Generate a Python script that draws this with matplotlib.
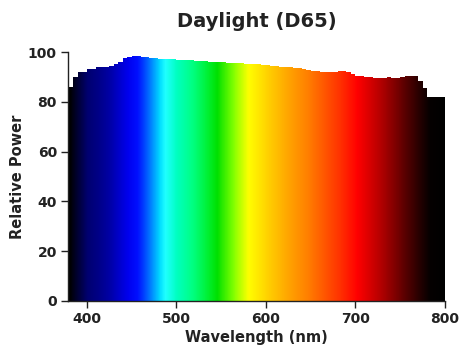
import numpy as np
import matplotlib.pyplot as plt
from matplotlib.colors import LinearSegmentedColormap
from matplotlib.patches import Polygon

# D65 relative power, 5 nm bins (left edge of each bin)
wavelength = np.arange(380, 800, 5)
power = [
    86.0, 90.0, 92.0, 92.0, 93.0, 93.0, 94.0, 94.0, 94.0, 94.5,   # 380-425
    95.0, 96.0, 97.5, 98.0, 98.3, 98.2, 98.0, 97.8, 97.6, 97.5,   # 430-475
    97.3, 97.2, 97.0, 97.0, 96.9, 96.8, 96.7, 96.6, 96.5, 96.3,   # 480-525
    96.2, 96.0, 96.0, 95.9, 95.8, 95.7, 95.6, 95.5, 95.4, 95.3,   # 530-575
    95.2, 95.1, 95.0, 94.8, 94.6, 94.4, 94.2, 94.1, 94.0, 93.9,   # 580-625
    93.7, 93.4, 93.1, 92.8, 92.5, 92.3, 92.1, 92.0, 92.0, 92.1,   # 630-675
    92.3, 92.2, 91.8, 91.2, 90.5, 90.2, 90.0, 89.8, 89.6, 89.5,   # 680-725
    89.6, 89.8, 89.7, 89.5, 89.8, 90.3, 90.5, 90.2, 88.5, 85.5,   # 730-775
    82.0, 82.0, 82.0, 82.0,                                       # 780-795
]
wl_end = 800

# visible spectrum colours along the wavelength axis
spectrum_nm = [380, 388, 400, 414, 426, 445, 456, 467, 481, 487, 500, 518,
               535, 545, 563, 580, 604, 627, 646, 668, 683, 702, 724, 739,
               758, 772, 783, 800]
spectrum_col = ['#000000', '#000030', '#000070', '#00008b', '#0000aa',
                '#0000ee', '#0010ff', '#0060ff', '#00ddff', '#20ffff',
                '#00ffc0', '#00ff80', '#00f030', '#00e000', '#80ff00',
                '#ffff00', '#ffcc00', '#ffa000', '#ff8000', '#ff5000',
                '#ff3000', '#ff0000', '#c00000', '#900000', '#500000',
                '#250000', '#050000', '#000000']

x_ticks = [400, 500, 600, 700, 800]
y_ticks = [0, 20, 40, 60, 80, 100]

ink = '#222222'

fig = plt.figure(figsize=(4.64, 3.51), dpi=100)
ax = fig.add_axes([68 / 464, 50 / 351, 377 / 464, 249 / 351])

# rainbow gradient, clipped to the stepped outline of the spectrum
lo, hi = spectrum_nm[0], spectrum_nm[-1]
stops = [((w - lo) / (hi - lo), c) for w, c in zip(spectrum_nm, spectrum_col)]
cmap = LinearSegmentedColormap.from_list('spectrum', stops)

grad = np.linspace(lo, hi, 1000)[None, :]
im = ax.imshow(grad, extent=[lo, hi, 0, 100], aspect='auto', cmap=cmap,
               vmin=lo, vmax=hi, interpolation='bilinear', origin='lower')

edges = np.append(wavelength, wl_end)
xs = np.repeat(edges, 2)[1:-1]
ys = np.repeat(power, 2)
verts = np.column_stack([np.r_[xs, wl_end, wavelength[0]],
                         np.r_[ys, 0, 0]])
outline = Polygon(verts, closed=True, transform=ax.transData,
                  facecolor='none', edgecolor='none')
ax.add_patch(outline)
im.set_clip_path(outline)

ax.set_xlim(379, 800)
ax.set_ylim(0, 100)
ax.set_xticks(x_ticks)
ax.set_yticks(y_ticks)

for side in ['top', 'right']:
    ax.spines[side].set_visible(False)
for side in ['left', 'bottom']:
    ax.spines[side].set_color(ink)
    ax.spines[side].set_linewidth(1.0)

ax.tick_params(direction='out', length=5, width=1, color=ink,
               labelcolor=ink, labelsize=10, pad=3)
for lbl in ax.get_xticklabels() + ax.get_yticklabels():
    lbl.set_fontweight('bold')

ax.set_xlabel('Wavelength (nm)', fontsize=10.5, fontweight='bold',
              color=ink, labelpad=3)
ax.set_ylabel('Relative Power', fontsize=10.5, fontweight='bold',
              color=ink, labelpad=2)
ax.set_title('Daylight (D65)', fontsize=14, fontweight='bold',
             color=ink, pad=18)

fig.savefig('out.png', dpi=100)
